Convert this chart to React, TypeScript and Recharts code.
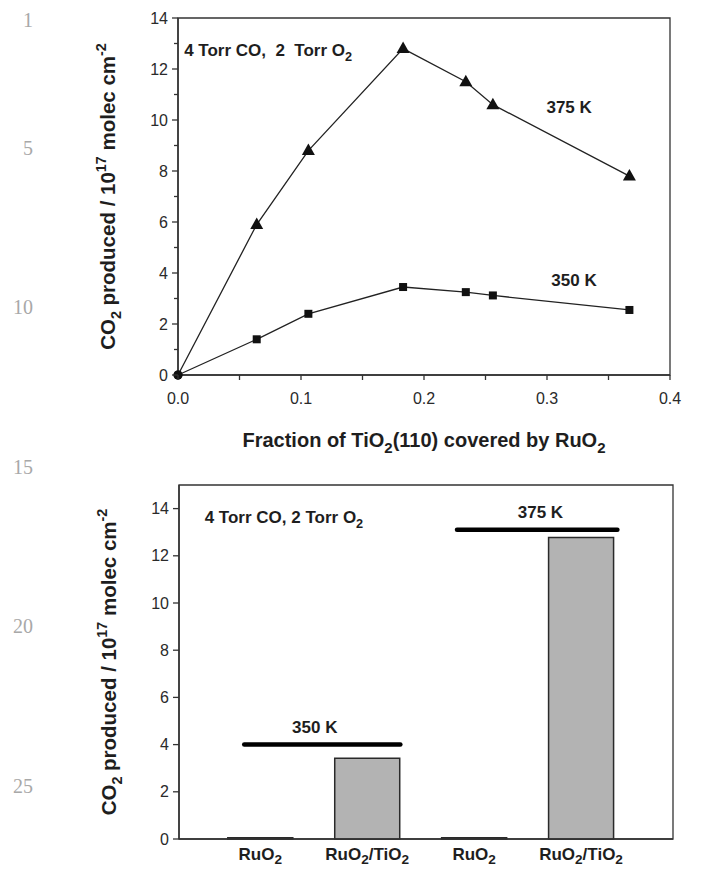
import React from 'react';
import {
  LineChart,
  Line,
  XAxis,
  YAxis,
  ReferenceArea,
  ReferenceDot,
  ReferenceLine,
  Label,
  BarChart,
  Bar,
} from 'recharts';

// ---------- Top panel data ----------
const coverage = [0, 0.064, 0.106, 0.183, 0.234, 0.256, 0.367];
const co2At375K = [0, 5.9, 8.8, 12.8, 11.5, 10.6, 7.8];
const co2At350K = [0, 1.4, 2.4, 3.45, 3.25, 3.12, 2.55];
const topXTicks = [0, 0.05, 0.1, 0.15, 0.2, 0.25, 0.3, 0.35, 0.4];
const topYTicks = [0, 1, 2, 3, 4, 5, 6, 7, 8, 9, 10, 11, 12, 13, 14];
const topXDomain = [0, 0.4];
const topYDomain = [0, 14];
const topNoteText = ['4 Torr CO,  2  Torr O2', '375 K', '350 K'];
const topNoteX = [0.005, 0.318, 0.322];
const topNoteY = [12.75, 10.5, 3.73];
const topNoteAnchor = ['start', 'middle', 'middle'];
const topXTitle = 'Fraction of TiO2(110) covered by RuO2';
const yTitle = 'CO2 produced / 10^17 molec cm^-2';

// ---------- Bottom panel data ----------
const samples = ['RuO2', 'RuO2/TiO2', 'RuO2', 'RuO2/TiO2'];
const samplePos = [1, 2, 3, 4];
const co2BySample = [0.05, 3.42, 0.05, 12.78];
const bottomYTicks = [0, 2, 4, 6, 8, 10, 12, 14];
const bottomXDomain = [0.24, 4.86];
const bottomYDomain = [0, 15];
const tempLabels = ['350 K', '375 K'];
const tempFrom = [0.85, 2.84];
const tempTo = [2.31, 4.34];
const tempLevel = [4.0, 13.1];
const tempLabelX = [1.51, 3.62];
const tempLabelY = [4.75, 13.87];
const bottomNoteText = '4 Torr CO, 2 Torr O2';
const bottomNoteX = 0.48;
const bottomNoteY = 13.66;

const lineNumbers = [1, 5, 10, 15, 20, 25];

const topData = coverage.map((x, i) => ({ x, t375: co2At375K[i], t350: co2At350K[i] }));
const bottomData = samplePos.map((pos, i) => ({ pos, label: samples[i], value: co2BySample[i] }));

const FONT = '"Liberation Sans", Arial, sans-serif';
const INK = '#1e1e1e';

type Seg = { t: string; k: 'n' | 'sub' | 'sup' };
function parseRich(s: string): Seg[] {
  const segs: Seg[] = [];
  const push = (t: string, k: Seg['k']) => {
    const last = segs[segs.length - 1];
    if (last && last.k === k) last.t += t;
    else segs.push({ t, k });
  };
  for (let i = 0; i < s.length; i++) {
    const c = s[i];
    if (c === '^') {
      let j = i + 1;
      let t = '';
      while (j < s.length && s[j] !== ' ') {
        t += s[j];
        j++;
      }
      push(t, 'sup');
      i = j - 1;
      continue;
    }
    const prev = i > 0 ? s[i - 1] : '';
    const last = segs[segs.length - 1];
    if (/[0-9]/.test(c) && (/[A-Za-z]/.test(prev) || (last && last.k === 'sub' && /[0-9]/.test(prev)))) {
      push(c, 'sub');
      continue;
    }
    push(c, 'n');
  }
  return segs;
}

function RichText({
  x,
  y,
  text,
  fontSize = 17,
  anchor = 'middle',
  rotate = false,
  bold = true,
  subScale = 0.75,
  subShift = 0.3,
}: any) {
  const segs = parseRich(text);
  let cur = 0;
  return (
    <text
      x={x}
      y={y}
      textAnchor={anchor}
      fontSize={fontSize}
      fontWeight={bold ? 'bold' : 'normal'}
      fontFamily={FONT}
      fill={INK}
      style={{ whiteSpace: 'pre' }}
      transform={rotate ? `rotate(-90 ${x} ${y})` : undefined}
    >
      {segs.map((sg, i) => {
        const target = sg.k === 'sub' ? fontSize * subShift : sg.k === 'sup' ? -fontSize * 0.42 : 0;
        const dy = target - cur;
        cur = target;
        return (
          <tspan key={i} dy={dy} fontSize={sg.k === 'n' ? fontSize : fontSize * subScale}>
            {sg.t}
          </tspan>
        );
      })}
    </text>
  );
}

const noteContent = (text: string, anchor: string, fontSize = 17) => (props: any) => {
  const vb = props.viewBox || {};
  const cx = (vb.x || 0) + (vb.width || 0) / 2;
  const cy = (vb.y || 0) + (vb.height || 0) / 2;
  return <RichText x={cx} y={cy + fontSize * 0.36} text={text} anchor={anchor} fontSize={fontSize} />;
};

const yTitleContent = (props: any) => {
  const vb = props.viewBox || {};
  const cx = vb.x + vb.width - 63;
  const cy = vb.y + vb.height / 2;
  return <RichText x={cx} y={cy} text={yTitle} fontSize={20.5} rotate subScale={0.7} />;
};

const TopXTick = (p: any) => {
  const { x, y, payload } = p;
  const v = payload.value as number;
  const major = Math.abs(v * 10 - Math.round(v * 10)) < 1e-6;
  return (
    <g>
      <line x1={x} x2={x} y1={y} y2={y + 5} stroke="#333" strokeWidth={1.3} />
      {major && (
        <text x={x} y={y + 29} textAnchor="middle" fontSize={16} fill="#2a2a2a" fontFamily={FONT}>
          {v.toFixed(1)}
        </text>
      )}
    </g>
  );
};

const makeYTick = (withMinor: boolean) => (p: any) => {
  const { x, y, payload } = p;
  const v = payload.value as number;
  const major = !withMinor || v % 2 === 0;
  return (
    <g>
      <line x1={x - (major ? 6 : 4)} x2={x} y1={y} y2={y} stroke="#333" strokeWidth={1.3} />
      {major && (
        <text x={x - 10} y={y + 5.5} textAnchor="end" fontSize={16} fill="#2a2a2a" fontFamily={FONT}>
          {v}
        </text>
      )}
    </g>
  );
};

const BottomXTick = (p: any) => {
  const { x, y, payload } = p;
  const idx = samplePos.indexOf(payload.value);
  const label = idx >= 0 ? samples[idx] : '';
  return <RichText x={x} y={y + 21} text={label} fontSize={17} subScale={0.8} subShift={0.22} />;
};

const makeDot = (shape: 'tri' | 'sq') => (props: any) => {
  const { cx, cy, index } = props;
  if (cx == null || cy == null) return <g key={`d${index}`} />;
  if (index === 0) return <circle key={`d${index}`} cx={cx} cy={cy} r={4.5} fill="#111" />;
  if (shape === 'tri')
    return (
      <path
        key={`d${index}`}
        d={`M${cx},${cy - 7} L${cx + 6.5},${cy + 4.5} L${cx - 6.5},${cy + 4.5} Z`}
        fill="#111"
      />
    );
  return <rect key={`d${index}`} x={cx - 4} y={cy - 4} width={8} height={8} fill="#111" />;
};

const axisLineStyle = { stroke: '#333', strokeWidth: 1.5 };

export default function App() {
  return (
    <div
      style={{
        position: 'fixed',
        left: 0,
        top: 0,
        width: 701,
        height: 870,
        background: '#fff',
        overflow: 'hidden',
      }}
    >
      {lineNumbers.map((n) => (
        <div
          key={n}
          style={{
            position: 'absolute',
            left: 0,
            width: 33,
            textAlign: 'right',
            top: 20 + (n - 1) * 31.9 - 13,
            fontFamily: '"Liberation Serif", "DejaVu Serif", serif',
            fontSize: 20,
            lineHeight: '26px',
            color: '#a8a8a8',
          }}
        >
          {n}
        </div>
      ))}

      <div style={{ position: 'absolute', left: 0, top: 0 }}>
        <LineChart width={701} height={460} data={topData} margin={{ top: 18, right: 31, bottom: 0, left: 0 }}>
          <XAxis
            dataKey="x"
            type="number"
            domain={topXDomain}
            ticks={topXTicks}
            interval={0}
            tickSize={0}
            tickMargin={0}
            tick={<TopXTick />}
            axisLine={axisLineStyle}
            height={85}
          >
            <Label
              content={(props: any) => {
                const vb = props.viewBox || {};
                return <RichText x={vb.x + vb.width / 2} y={vb.y + 72} text={topXTitle} fontSize={20} />;
              }}
            />
          </XAxis>
          <YAxis
            type="number"
            domain={topYDomain}
            ticks={topYTicks}
            interval={0}
            tickSize={0}
            tickMargin={0}
            tick={makeYTick(true)}
            axisLine={axisLineStyle}
            width={178}
          >
            <Label content={yTitleContent} />
          </YAxis>
          <ReferenceArea
            x1={topXDomain[0]}
            x2={topXDomain[1]}
            y1={topYDomain[0]}
            y2={topYDomain[1]}
            fill="none"
            stroke="#333"
            strokeWidth={1.3}
          />
          <Line
            dataKey="t375"
            stroke="#222"
            strokeWidth={1.3}
            dot={makeDot('tri')}
            activeDot={false}
            isAnimationActive={false}
          />
          <Line
            dataKey="t350"
            stroke="#222"
            strokeWidth={1.3}
            dot={makeDot('sq')}
            activeDot={false}
            isAnimationActive={false}
          />
          {topNoteText.map((t, i) => (
            <ReferenceDot key={t} x={topNoteX[i]} y={topNoteY[i]} r={0} fill="none" stroke="none">
              <Label content={noteContent(t, topNoteAnchor[i], 17)} />
            </ReferenceDot>
          ))}
        </LineChart>
      </div>

      <div style={{ position: 'absolute', left: 0, top: 460 }}>
        <BarChart width={701} height={410} data={bottomData} margin={{ top: 25, right: 28, bottom: 0, left: 0 }}>
          <XAxis
            dataKey="pos"
            type="number"
            domain={bottomXDomain}
            ticks={samplePos}
            interval={0}
            tickSize={0}
            tickMargin={0}
            tick={<BottomXTick />}
            axisLine={axisLineStyle}
            height={31}
            allowDataOverflow
          />
          <YAxis
            type="number"
            domain={bottomYDomain}
            ticks={bottomYTicks}
            interval={0}
            tickSize={0}
            tickMargin={0}
            tick={makeYTick(false)}
            axisLine={axisLineStyle}
            width={179}
          >
            <Label content={yTitleContent} />
          </YAxis>
          <ReferenceArea
            x1={bottomXDomain[0]}
            x2={bottomXDomain[1]}
            y1={bottomYDomain[0]}
            y2={bottomYDomain[1]}
            fill="none"
            stroke="#333"
            strokeWidth={1.3}
          />
          <Bar
            dataKey="value"
            barSize={65}
            fill="#b3b3b3"
            stroke="#2a2a2a"
            strokeWidth={1.5}
            isAnimationActive={false}
          />
          {tempLabels.map((t, i) => (
            <ReferenceLine
              key={`l${t}`}
              segment={[
                { x: tempFrom[i], y: tempLevel[i] },
                { x: tempTo[i], y: tempLevel[i] },
              ]}
              stroke="#000"
              strokeWidth={4.5}
              strokeLinecap="round"
            />
          ))}
          {tempLabels.map((t, i) => (
            <ReferenceDot key={`t${t}`} x={tempLabelX[i]} y={tempLabelY[i]} r={0} fill="none" stroke="none">
              <Label content={noteContent(t, 'middle', 17)} />
            </ReferenceDot>
          ))}
          <ReferenceDot x={bottomNoteX} y={bottomNoteY} r={0} fill="none" stroke="none">
            <Label content={noteContent(bottomNoteText, 'start', 17)} />
          </ReferenceDot>
        </BarChart>
      </div>
    </div>
  );
}
